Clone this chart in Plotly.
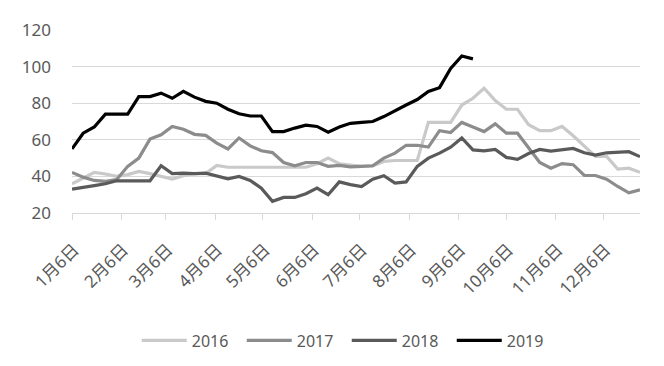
import pandas as pd
import plotly.graph_objects as go

# weekly observation dates (common calendar year for all series)
weeks = pd.date_range("2019-01-06", periods=52, freq="7D")

years = ["2016", "2017", "2018", "2019"]

v2016 = [36, 39, 42.2, 41.3, 40, 41, 42.7, 41.5, 40, 38.5, 40.4, 41.5, 41.5, 46,
         45, 45, 45, 45, 45, 45, 45, 45, 46.9, 50, 46.9, 46.4,
         45.5, 45.8, 48.2, 48.7, 48.7, 48.7, 69.5, 69.5, 69.5, 79, 82.7, 88.2, 81.5,
         76.7, 76.7, 68.2, 65, 65, 67.3, 62.2, 56.7, 50.9, 50.9, 44, 44.5, 42.2]
v2017 = [42.2, 39.6, 37.8, 37.3, 38.2, 45.5, 50, 60.4, 62.7, 67.3, 65.8, 63, 62.4, 58.2,
         55, 61, 56.7, 54, 53, 47.6, 45.8, 47.6, 47.6, 45.5, 46, 45.2,
         45.5, 45.8, 50, 52.7, 57, 57, 56, 65, 64, 69.5, 67,
         64.5, 68.7, 63.6, 63.6, 55.8, 47.6, 44.5, 47, 46.4, 40.5, 40.5, 38.5, 34.5, 31, 32.7]
v2018 = [33, 34.2, 35, 36, 37.6, 37.6, 37.6, 37.6, 45.8, 41.5, 41.8, 41.5, 41.8, 40.2,
         38.7, 40, 37.8, 33.6, 26.4, 28.5, 28.5, 30.5, 33.6, 30, 37, 35.5,
         34.5, 38.5, 40.4, 36.4, 37, 45.5, 50, 52.7, 56, 61, 54.5, 54, 54.7,
         50.4, 49.3, 52.5, 54.7, 53.8, 54.7, 55.3, 52.9, 51.6, 52.9, 53, 53.5, 50.8]
v2019 = [55, 63.6, 67, 74, 74, 74, 83.6, 83.6, 85.5, 82.7, 86.5, 83.3, 81, 80,
         76.7, 74.2, 73, 73, 64.5, 64.5, 66.4, 68, 67.3, 64.2, 67, 69,
         69.5, 70, 72.7, 76, 79, 82, 86.4, 88.5, 99, 105.8, 104.2]

series = [v2016, v2017, v2018, v2019]
colors = ["#c9c9c9", "#8c8c8c", "#5a5a5a", "#000000"]

y_ticks = [20, 40, 60, 80, 100, 120]

fig = go.Figure()
for name, vals, col in zip(years, series, colors):
    fig.add_trace(go.Scatter(
        x=weeks[:len(vals)], y=vals, name=name, mode="lines",
        line=dict(color=col, width=3.2),
    ))

font_main = "Noto Sans, Noto Sans CJK SC, sans-serif"
# page body has an 8px margin, so the figure is sized/offset to compensate
fig.update_layout(
    width=656, height=358,
    margin=dict(l=64, r=24, t=22, b=153, autoexpand=False),
    paper_bgcolor="white", plot_bgcolor="white",
    font=dict(family=font_main, color="#595959", size=15),
    showlegend=True,
    legend=dict(
        orientation="h", x=0.114, xanchor="left", y=-0.697, yanchor="middle",
        font=dict(size=16, color="#595959"), itemwidth=45,
        entrywidth=45, entrywidthmode="pixels",
        traceorder="normal",
    ),
    xaxis=dict(
        type="date",
        range=[weeks[0], weeks[-1]],
        tick0="2019-01-06", dtick="M1",
        tickformat="%-m月%-d日",
        tickangle=-45,
        ticks="outside", ticklen=6, tickcolor="#d9d9d9",
        showline=True, linecolor="#d9d9d9", linewidth=1,
        showgrid=False, zeroline=False, automargin=False,
        tickfont=dict(size=17, color="#595959"),
        ticklabelstandoff=13, ticklabelshift=2,
    ),
    yaxis=dict(
        range=[20, 120], tickvals=y_ticks,
        showgrid=True, gridcolor="#d9d9d9", gridwidth=1,
        zeroline=False, showline=False, ticks="", automargin=False,
        tickfont=dict(size=17, color="#595959"),
        ticklabelstandoff=20,
    ),
)

fig.write_html("out.html")
